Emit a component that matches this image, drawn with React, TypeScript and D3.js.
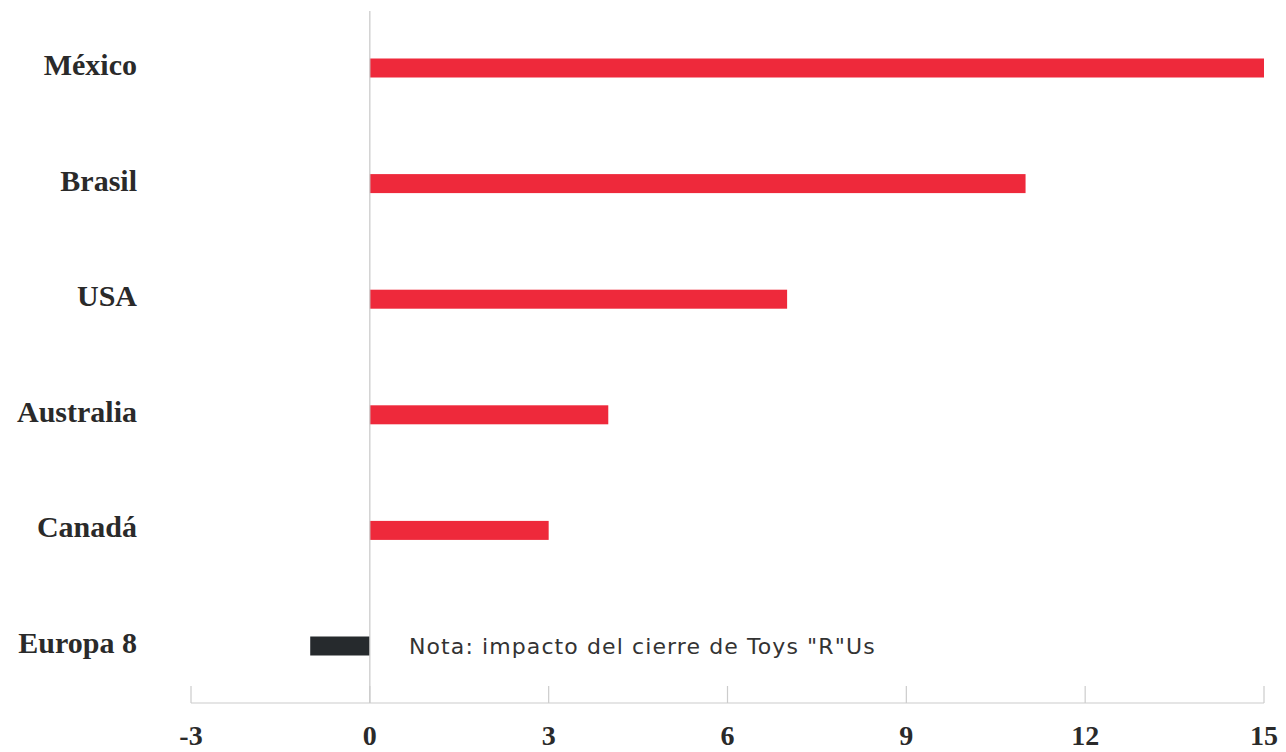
import React from "react";
import * as d3 from "d3";

const categories = ["México", "Brasil", "USA", "Australia", "Canadá", "Europa 8"];
const values = [15, 11, 7, 4, 3, -1];
const tickValues = [-3, 0, 3, 6, 9, 12, 15];
const note = 'Nota: impacto del cierre de Toys "R"Us';

const W = 1286;
const H = 752;

export default function App() {
  const x = d3.scaleLinear().domain([-3, 15]).range([191, 1264]);
  const y = d3.scaleBand<string>().domain(categories).range([10.2, 703.8]).padding(0);
  const barH = 19;
  const axisY = 703;
  const serif = "'Liberation Serif', 'Times New Roman', serif";
  return (
    <svg width={W} height={H} style={{ position: "absolute", left: 0, top: 0 }}>
      <rect x={0} y={0} width={W} height={H} fill="#fff" />
      {categories.map((c, i) => {
        const v = values[i];
        const cy = (y(c) as number) + y.bandwidth() / 2;
        return (
          <g key={c}>
            <rect
              x={Math.min(x(0), x(v))}
              y={cy - barH / 2}
              width={Math.abs(x(v) - x(0))}
              height={barH}
              fill={v >= 0 ? "#EE293B" : "#262A2D"}
            />
            <text
              x={137}
              y={cy + 7}
              textAnchor="end"
              fontFamily={serif}
              fontWeight="bold"
              fontSize={30}
              fill="#2a2a2a"
            >
              {c}
            </text>
          </g>
        );
      })}
      <line x1={x(0)} x2={x(0)} y1={11} y2={axisY} stroke="#c8c8c8" strokeWidth={1.2} />
      <line x1={x(-3)} x2={x(15)} y1={axisY} y2={axisY} stroke="#cccccc" strokeWidth={1.2} />
      {tickValues.map((t) => (
        <g key={t}>
          <line x1={x(t)} x2={x(t)} y1={axisY} y2={axisY - 17} stroke="#cccccc" strokeWidth={1.2} />
          <text
            x={x(t)}
            y={745}
            textAnchor="middle"
            fontFamily={serif}
            fontWeight="bold"
            fontSize={28}
            fill="#2a2a2a"
          >
            {t}
          </text>
        </g>
      ))}
      <text
        x={409}
        y={(y("Europa 8") as number) + y.bandwidth() / 2 + 8}
        fontFamily="'DejaVu Sans', 'Open Sans', sans-serif"
        fontSize={22}
        letterSpacing={1.1}
        fill="#333"
      >
        {note}
      </text>
    </svg>
  );
}
